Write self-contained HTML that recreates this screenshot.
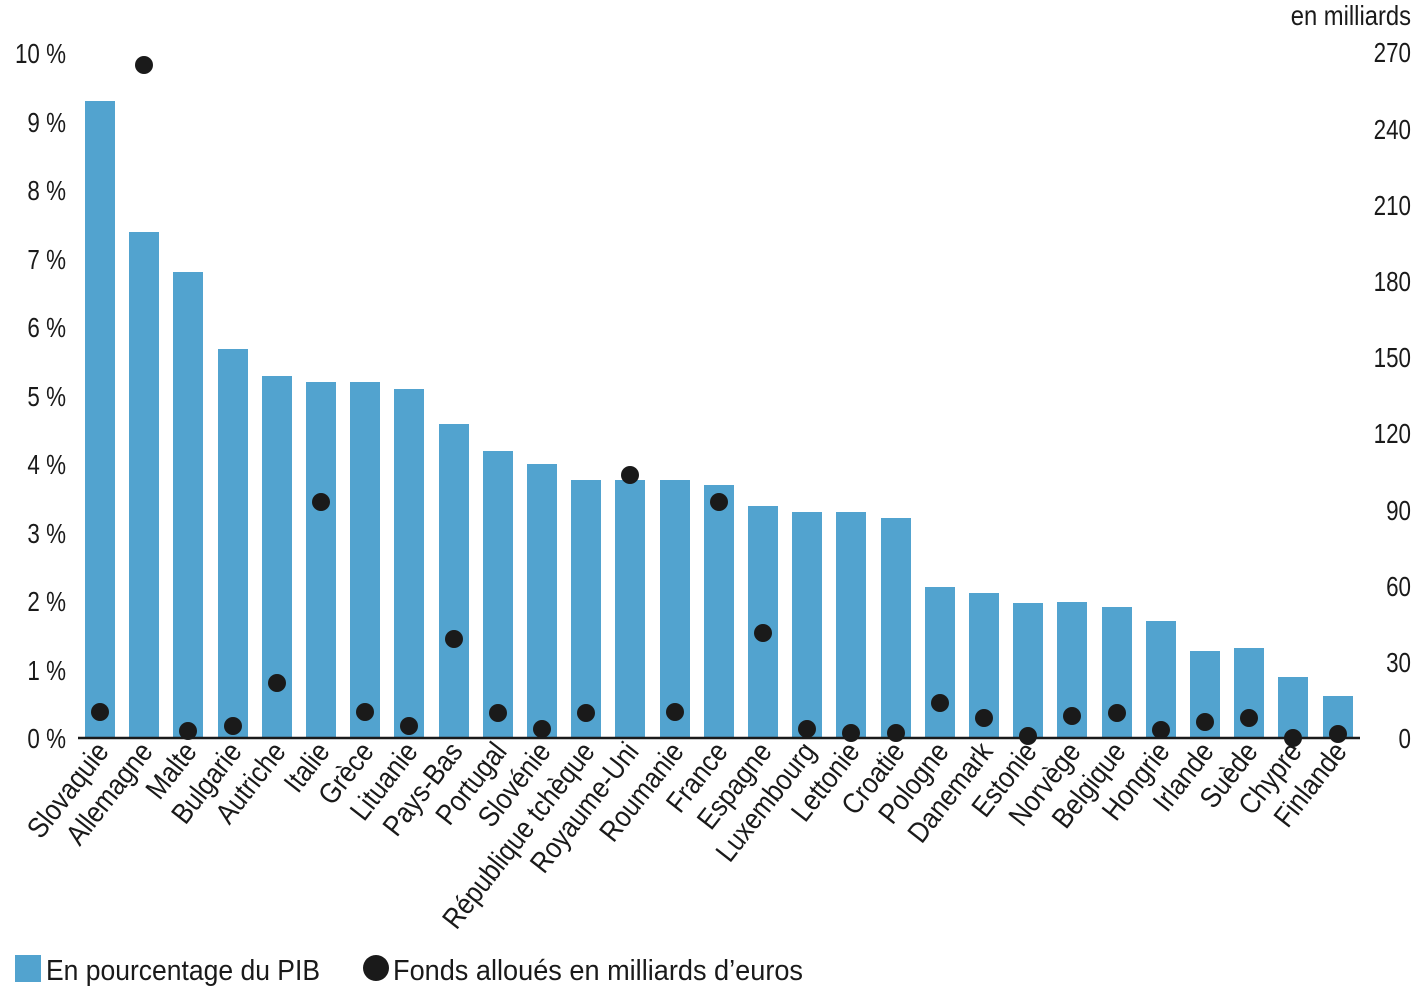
<!DOCTYPE html>
<html><head><meta charset="utf-8"><style>
html,body{margin:0;padding:0;background:#fff;}
svg{display:block;}
text{font-family:"Liberation Sans Narrow","Liberation Sans",sans-serif;fill:#1a1a1a;}
</style></head><body>
<svg width="1423" height="1003" viewBox="0 0 1423 1003" xmlns="http://www.w3.org/2000/svg">
<g font-size="28" text-anchor="end">
<text transform="translate(66,748) scale(0.8,1)">0 %</text>
<text transform="translate(66,680) scale(0.8,1)">1 %</text>
<text transform="translate(66,611) scale(0.8,1)">2 %</text>
<text transform="translate(66,543) scale(0.8,1)">3 %</text>
<text transform="translate(66,474) scale(0.8,1)">4 %</text>
<text transform="translate(66,406) scale(0.8,1)">5 %</text>
<text transform="translate(66,337) scale(0.8,1)">6 %</text>
<text transform="translate(66,269) scale(0.8,1)">7 %</text>
<text transform="translate(66,200) scale(0.8,1)">8 %</text>
<text transform="translate(66,132) scale(0.8,1)">9 %</text>
<text transform="translate(66,63) scale(0.8,1)">10 %</text>
<text transform="translate(1411,748) scale(0.8,1)">0</text>
<text transform="translate(1411,672) scale(0.8,1)">30</text>
<text transform="translate(1411,596) scale(0.8,1)">60</text>
<text transform="translate(1411,520) scale(0.8,1)">90</text>
<text transform="translate(1411,443) scale(0.8,1)">120</text>
<text transform="translate(1411,367) scale(0.8,1)">150</text>
<text transform="translate(1411,291) scale(0.8,1)">180</text>
<text transform="translate(1411,215) scale(0.8,1)">210</text>
<text transform="translate(1411,139) scale(0.8,1)">240</text>
<text transform="translate(1411,62) scale(0.8,1)">270</text>
<text transform="translate(1411,25) scale(0.85,1)">en milliards</text>
</g>
<g fill="#52a3cf">
<rect x="85" y="101" width="30" height="637"/>
<rect x="129" y="232" width="30" height="506"/>
<rect x="173" y="272" width="30" height="466"/>
<rect x="218" y="349" width="30" height="389"/>
<rect x="262" y="376" width="30" height="362"/>
<rect x="306" y="382" width="30" height="356"/>
<rect x="350" y="382" width="30" height="356"/>
<rect x="394" y="389" width="30" height="349"/>
<rect x="439" y="424" width="30" height="314"/>
<rect x="483" y="451" width="30" height="287"/>
<rect x="527" y="464" width="30" height="274"/>
<rect x="571" y="480" width="30" height="258"/>
<rect x="615" y="480" width="30" height="258"/>
<rect x="660" y="480" width="30" height="258"/>
<rect x="704" y="485" width="30" height="253"/>
<rect x="748" y="506" width="30" height="232"/>
<rect x="792" y="512" width="30" height="226"/>
<rect x="836" y="512" width="30" height="226"/>
<rect x="881" y="518" width="30" height="220"/>
<rect x="925" y="587" width="30" height="151"/>
<rect x="969" y="593" width="30" height="145"/>
<rect x="1013" y="603" width="30" height="135"/>
<rect x="1057" y="602" width="30" height="136"/>
<rect x="1102" y="607" width="30" height="131"/>
<rect x="1146" y="621" width="30" height="117"/>
<rect x="1190" y="651" width="30" height="87"/>
<rect x="1234" y="648" width="30" height="90"/>
<rect x="1278" y="677" width="30" height="61"/>
<rect x="1323" y="696" width="30" height="42"/>
</g>
<line x1="78" y1="738" x2="1360" y2="738" stroke="#1a1a1a" stroke-width="2.5"/>
<g fill="#1a1a1a">
<circle cx="100" cy="712" r="9"/>
<circle cx="144" cy="65" r="9"/>
<circle cx="188" cy="731" r="9"/>
<circle cx="233" cy="726" r="9"/>
<circle cx="277" cy="683" r="9"/>
<circle cx="321" cy="502" r="9"/>
<circle cx="365" cy="712" r="9"/>
<circle cx="409" cy="726" r="9"/>
<circle cx="454" cy="639" r="9"/>
<circle cx="498" cy="713" r="9"/>
<circle cx="542" cy="729" r="9"/>
<circle cx="586" cy="713" r="9"/>
<circle cx="630" cy="475" r="9"/>
<circle cx="675" cy="712" r="9"/>
<circle cx="719" cy="502" r="9"/>
<circle cx="763" cy="633" r="9"/>
<circle cx="807" cy="729" r="9"/>
<circle cx="851" cy="733" r="9"/>
<circle cx="896" cy="733" r="9"/>
<circle cx="940" cy="703" r="9"/>
<circle cx="984" cy="718" r="9"/>
<circle cx="1028" cy="736" r="9"/>
<circle cx="1072" cy="716" r="9"/>
<circle cx="1117" cy="713" r="9"/>
<circle cx="1161" cy="730" r="9"/>
<circle cx="1205" cy="722" r="9"/>
<circle cx="1249" cy="718" r="9"/>
<circle cx="1293" cy="738" r="9"/>
<circle cx="1338" cy="734" r="9"/>
</g>
<g font-size="29" text-anchor="end">
<text transform="translate(110,752) rotate(-52) scale(0.88,1)">Slovaquie</text>
<text transform="translate(154,752) rotate(-52) scale(0.88,1)">Allemagne</text>
<text transform="translate(198,752) rotate(-52) scale(0.88,1)">Malte</text>
<text transform="translate(243,752) rotate(-52) scale(0.88,1)">Bulgarie</text>
<text transform="translate(287,752) rotate(-52) scale(0.88,1)">Autriche</text>
<text transform="translate(331,752) rotate(-52) scale(0.88,1)">Italie</text>
<text transform="translate(375,752) rotate(-52) scale(0.88,1)">Grèce</text>
<text transform="translate(419,752) rotate(-52) scale(0.88,1)">Lituanie</text>
<text transform="translate(464,752) rotate(-52) scale(0.88,1)">Pays-Bas</text>
<text transform="translate(508,752) rotate(-52) scale(0.88,1)">Portugal</text>
<text transform="translate(552,752) rotate(-52) scale(0.88,1)">Slovénie</text>
<text transform="translate(596,752) rotate(-52) scale(0.88,1)">République tchèque</text>
<text transform="translate(640,752) rotate(-52) scale(0.88,1)">Royaume-Uni</text>
<text transform="translate(685,752) rotate(-52) scale(0.88,1)">Roumanie</text>
<text transform="translate(729,752) rotate(-52) scale(0.88,1)">France</text>
<text transform="translate(773,752) rotate(-52) scale(0.88,1)">Espagne</text>
<text transform="translate(817,752) rotate(-52) scale(0.88,1)">Luxembourg</text>
<text transform="translate(861,752) rotate(-52) scale(0.88,1)">Lettonie</text>
<text transform="translate(906,752) rotate(-52) scale(0.88,1)">Croatie</text>
<text transform="translate(950,752) rotate(-52) scale(0.88,1)">Pologne</text>
<text transform="translate(994,752) rotate(-52) scale(0.88,1)">Danemark</text>
<text transform="translate(1038,752) rotate(-52) scale(0.88,1)">Estonie</text>
<text transform="translate(1082,752) rotate(-52) scale(0.88,1)">Norvège</text>
<text transform="translate(1127,752) rotate(-52) scale(0.88,1)">Belgique</text>
<text transform="translate(1171,752) rotate(-52) scale(0.88,1)">Hongrie</text>
<text transform="translate(1215,752) rotate(-52) scale(0.88,1)">Irlande</text>
<text transform="translate(1259,752) rotate(-52) scale(0.88,1)">Suède</text>
<text transform="translate(1303,752) rotate(-52) scale(0.88,1)">Chypre</text>
<text transform="translate(1348,752) rotate(-52) scale(0.88,1)">Finlande</text>
</g>
<rect x="15" y="955" width="26" height="27" fill="#52a3cf"/>
<text x="46" y="980" font-size="29" textLength="274" lengthAdjust="spacingAndGlyphs">En pourcentage du PIB</text>
<circle cx="376" cy="968" r="13" fill="#1a1a1a"/>
<text x="393" y="980" font-size="29" textLength="410" lengthAdjust="spacingAndGlyphs">Fonds alloués en milliards d’euros</text>
</svg>
</body></html>
